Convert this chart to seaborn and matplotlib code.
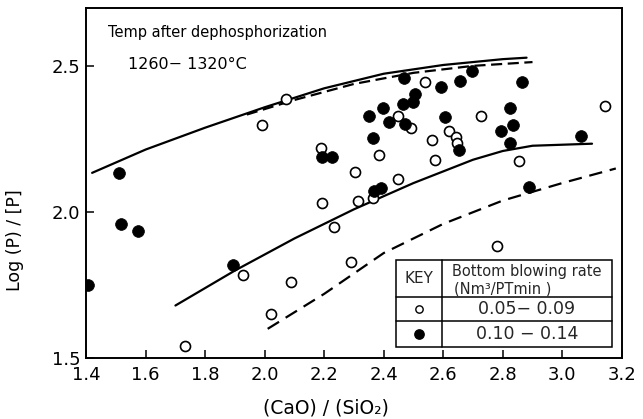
import matplotlib
matplotlib.use("Agg")
import matplotlib.pyplot as plt
import pandas as pd
import seaborn as sns
from matplotlib.patches import Rectangle

# Bottom blowing rate 0.05-0.09 Nm3/PTmin (open symbols)
open_basicity = [2.071, 1.990, 2.538, 2.189, 2.447, 2.490, 2.618, 2.642, 2.645,
                 2.561, 2.383, 2.571, 2.302, 2.447, 2.363, 2.313, 2.192, 2.726,
                 3.145, 2.853, 2.779, 2.232, 2.289, 2.088, 2.021, 1.927, 1.732]
open_logp = [2.387, 2.298, 2.445, 2.219, 2.329, 2.288, 2.277, 2.257, 2.236,
             2.247, 2.195, 2.178, 2.137, 2.113, 2.048, 2.038, 2.031, 2.329,
             2.363, 2.175, 1.884, 1.949, 1.829, 1.760, 1.651, 1.784, 1.541]

# Bottom blowing rate 0.10-0.14 Nm3/PTmin (filled symbols)
filled_basicity = [1.407, 1.511, 1.517, 1.574, 1.893, 2.192, 2.226, 2.467, 2.591,
                   2.397, 2.350, 2.504, 2.464, 2.497, 2.417, 2.470, 2.605, 2.363,
                   2.366, 2.390, 2.695, 2.655, 2.863, 2.823, 2.836, 2.793, 2.652,
                   2.823, 3.064, 2.887]
filled_logp = [1.750, 2.134, 1.959, 1.935, 1.818, 2.188, 2.188, 2.459, 2.428,
               2.356, 2.329, 2.404, 2.370, 2.377, 2.308, 2.301, 2.325, 2.253,
               2.072, 2.082, 2.483, 2.449, 2.445, 2.356, 2.298, 2.277, 2.212,
               2.236, 2.260, 2.086]

# Reference curves
upper_solid_x = [1.42, 1.60, 1.80, 2.00, 2.20, 2.40, 2.60, 2.80, 2.88]
upper_solid_y = [2.135, 2.215, 2.290, 2.360, 2.425, 2.475, 2.505, 2.525, 2.530]
upper_dashed_x = [1.94, 2.10, 2.30, 2.50, 2.70, 2.90]
upper_dashed_y = [2.335, 2.385, 2.440, 2.478, 2.502, 2.515]
middle_solid_x = [1.70, 1.90, 2.10, 2.30, 2.50, 2.70, 2.80, 2.90, 3.10]
middle_solid_y = [1.680, 1.800, 1.910, 2.010, 2.100, 2.180, 2.210, 2.228, 2.235]
lower_dashed_x = [2.01, 2.20, 2.40, 2.60, 2.80, 3.00, 3.18]
lower_dashed_y = [1.600, 1.720, 1.860, 1.960, 2.040, 2.100, 2.150]

x_ticks = [1.4, 1.6, 1.8, 2.0, 2.2, 2.4, 2.6, 2.8, 3.0, 3.2]
x_tick_labels = ["1.4", "1.6", "1.8", "2.0", "2.2", "2.4", "2.6", "2.8", "3.0", "3.2"]
y_ticks = [1.5, 2.0, 2.5]
y_tick_labels = ["1.5", "2.0", "2.5"]

key_rows = ["0.05\u2212 0.09", "0.10 \u2212 0.14"]

sns.set_theme(style="ticks")
plt.rcParams["font.family"] = ["DejaVu Sans"]

fig = plt.figure(figsize=(6.43, 4.19), dpi=100)
ax = fig.add_axes([0.134, 0.1456, 0.833, 0.835])

open_df = pd.DataFrame({"basicity": open_basicity, "logp": open_logp})
filled_df = pd.DataFrame({"basicity": filled_basicity, "logp": filled_logp})

curve_style = dict(color="black", linewidth=1.6, sort=False, estimator=None, ax=ax)
sns.lineplot(x=upper_solid_x, y=upper_solid_y, **curve_style)
sns.lineplot(x=middle_solid_x, y=middle_solid_y, **curve_style)
sns.lineplot(x=upper_dashed_x, y=upper_dashed_y, dashes=False, **curve_style)
sns.lineplot(x=lower_dashed_x, y=lower_dashed_y, dashes=False, **curve_style)
# dashed curves: the third and fourth lines added
ax.lines[2].set_dashes((5, 2.5))
ax.lines[3].set_dashes((6, 3.5))

sns.scatterplot(data=open_df, x="basicity", y="logp", ax=ax, s=52,
                color="white", edgecolor="black", linewidth=1.2, zorder=3)
sns.scatterplot(data=filled_df, x="basicity", y="logp", ax=ax, s=72,
                color="black", edgecolor="black", linewidth=0.5, zorder=3)

ax.set_xlim(1.4, 3.2)
ax.set_ylim(1.5, 2.70)
ax.set_xticks(x_ticks)
ax.set_xticklabels(x_tick_labels)
ax.set_yticks(y_ticks)
ax.set_yticklabels(y_tick_labels)
ax.tick_params(direction="in", length=6, width=1.1, labelsize=13,
               color="black", labelcolor="black")
ax.tick_params(axis="x", pad=6)
ax.tick_params(axis="y", pad=4)
ax.set_xlabel("")
ax.set_ylabel("")
for side in ["left", "right", "top", "bottom"]:
    ax.spines[side].set_visible(True)
    ax.spines[side].set_linewidth(1.4)
    ax.spines[side].set_color("black")

# Title block
ax.text(0.041, 0.931, "Temp after dephosphorization", transform=ax.transAxes,
        fontsize=10.5, ha="left", va="center", color="black")
ax.text(0.078, 0.84, "1260\u2212 1320\u00b0C", transform=ax.transAxes,
        fontsize=11.5, ha="left", va="center", color="black")

# Axis titles
fig.text(326 / 643, 1 - 408 / 419, "(CaO) / (SiO\u2082)", fontsize=13.5,
         ha="center", va="center", color="black")
fig.text(15 / 643, 1 - 240 / 419, "Log (P) / [P]", fontsize=12.5, rotation=90,
         ha="center", va="center", color="black")

# Key table
bx0, bx1, bdiv = 0.578, 0.981, 0.664
by_top, by_head, by_mid, by_bot = 0.28, 0.174, 0.106, 0.031
ax.add_patch(Rectangle((bx0, by_bot), bx1 - bx0, by_top - by_bot,
                       transform=ax.transAxes, facecolor="white",
                       edgecolor="black", linewidth=1.1, zorder=4))
line_kw = dict(transform=ax.transAxes, color="black", linewidth=1.1, zorder=5)
ax.plot([bdiv, bdiv], [by_bot, by_top], **line_kw)
ax.plot([bx0, bx1], [by_head, by_head], **line_kw)
ax.plot([bx0, bx1], [by_mid, by_mid], **line_kw)

kx = (bx0 + bdiv) / 2
vx = (bdiv + bx1) / 2
ax.text(kx, (by_top + by_head) / 2, "KEY", transform=ax.transAxes, fontsize=11,
        ha="center", va="center", zorder=6)
ax.text(vx, by_head + 0.072, "Bottom blowing rate", transform=ax.transAxes,
        fontsize=10.5, ha="center", va="center", zorder=6)
ax.text(bdiv + 0.022, by_head + 0.024, "(Nm\u00b3/PTmin )", transform=ax.transAxes,
        fontsize=10.5, ha="left", va="center", zorder=6)
row_y = [(by_head + by_mid) / 2, (by_mid + by_bot) / 2]
ax.scatter([kx], [row_y[0]], transform=ax.transAxes, s=28, facecolor="white",
           edgecolor="black", linewidth=1.0, zorder=6)
ax.scatter([kx], [row_y[1]], transform=ax.transAxes, s=45, facecolor="black",
           edgecolor="black", zorder=6)
for label, yy in zip(key_rows, row_y):
    ax.text(vx, yy, label, transform=ax.transAxes, fontsize=12.5,
            ha="center", va="center", zorder=6)

fig.savefig("out.png", dpi=100)
